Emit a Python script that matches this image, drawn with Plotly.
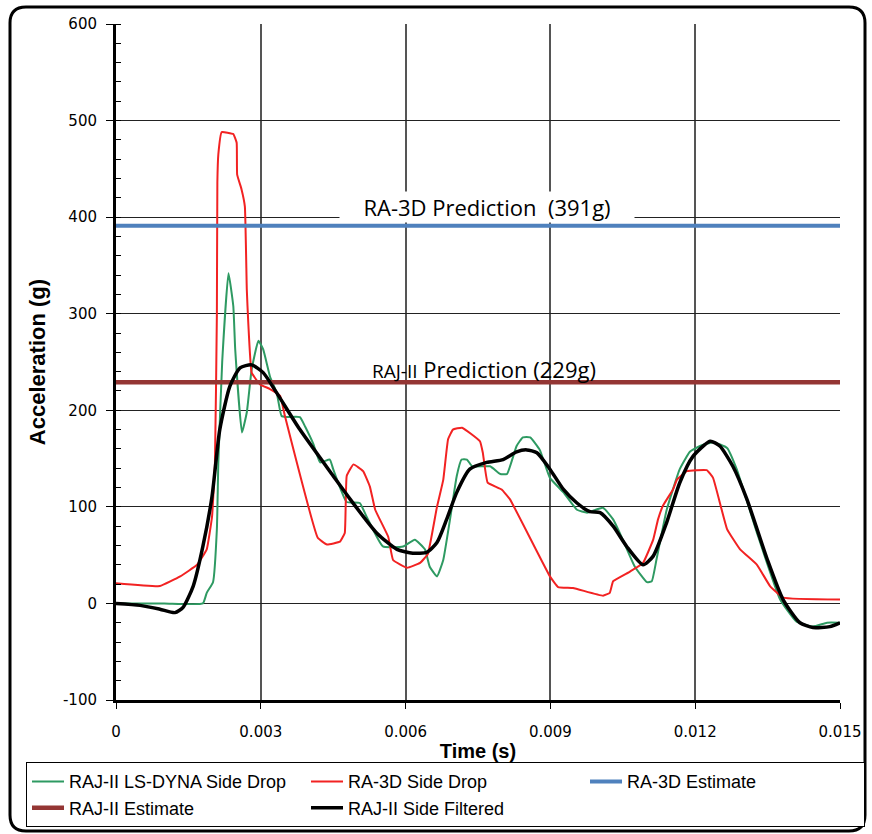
import plotly.graph_objects as go

# ---- data (time in seconds, acceleration in g) ----
red_t = [0.0, 0.00091, 0.00133, 0.00168, 0.00188, 0.00199, 0.00205, 0.00209, 0.00210, 0.00212,
         0.00219, 0.00243, 0.00250, 0.00251, 0.00260, 0.00267, 0.00271, 0.00274, 0.00281, 0.00298,
         0.00319, 0.00340, 0.00350, 0.00418, 0.00437, 0.00464, 0.00474, 0.00478, 0.00492, 0.00512,
         0.00526, 0.00537, 0.00564, 0.00574, 0.00603, 0.00630, 0.00646, 0.00665, 0.00678, 0.00688,
         0.00698, 0.00717, 0.00754, 0.00760, 0.00770, 0.00799, 0.00816, 0.00899, 0.00916, 0.00947,
         0.01009, 0.01023, 0.01030, 0.01065, 0.01092, 0.01113, 0.01123, 0.01133, 0.01154, 0.01162,
         0.01183, 0.01224, 0.01237, 0.01266, 0.01293, 0.01328, 0.01355, 0.01382, 0.01500]
red_v = [21, 18, 28, 40, 56, 90, 146, 300, 436, 465,
         488, 486, 477, 444, 429, 411, 325, 291, 239, 227,
         222, 215, 194, 68, 61, 64, 73, 132, 144, 137,
         121, 97, 69, 45, 37, 42, 51, 100, 128, 170,
         180, 182, 168, 156, 125, 118, 108, 28, 17, 16,
         8, 11, 23, 33, 42, 66, 87, 101, 118, 128,
         137, 138, 130, 77, 56, 40, 18, 6, 4]

green_t = [0.0, 0.0010, 0.00180, 0.00188, 0.00201, 0.00209, 0.00212, 0.00220, 0.00233, 0.00243,
           0.00247, 0.00261, 0.00271, 0.00281, 0.00295, 0.00305, 0.00319, 0.00333, 0.00343, 0.00353,
           0.00381, 0.00392, 0.00409, 0.00423, 0.00443, 0.00450, 0.00478, 0.00505, 0.00519, 0.00553,
           0.00595, 0.00619, 0.00640, 0.00650, 0.00665, 0.00678, 0.00692, 0.00706, 0.00716, 0.00727,
           0.00738, 0.00775, 0.00796, 0.00810, 0.00830, 0.00843, 0.00858, 0.00878, 0.00899, 0.00927,
           0.00955, 0.00976, 0.01009, 0.01030, 0.01050, 0.01075, 0.01100, 0.01110, 0.01120, 0.01141,
           0.01168, 0.01189, 0.01210, 0.01237, 0.01266, 0.01286, 0.01328, 0.01376, 0.01410, 0.01444,
           0.01473, 0.01500]
green_v = [0, 0, 0, 11, 22, 77, 146, 250, 342, 308,
           263, 177, 198, 242, 272, 263, 235, 218, 194, 193,
           193, 183, 165, 146, 149, 139, 105, 104, 90, 59,
           59, 66, 56, 38, 28, 45, 87, 132, 149, 149,
           142, 142, 134, 134, 163, 172, 172, 159, 130, 115,
           97, 94, 99, 87, 66, 38, 22, 23, 46, 97,
           139, 157, 163, 167, 161, 139, 73, 4, -19, -24,
           -20, -20]

black_t = [0.0, 0.0005, 0.00091, 0.00122, 0.00139, 0.00160, 0.00180, 0.00199, 0.00215, 0.00236,
           0.00257, 0.00281, 0.00305, 0.00333, 0.00381, 0.00450, 0.00485, 0.00540, 0.00582, 0.00615,
           0.00644, 0.00665, 0.00685, 0.00706, 0.00733, 0.00768, 0.00802, 0.00830, 0.00851, 0.00872,
           0.00899, 0.00927, 0.00955, 0.00982, 0.01003, 0.01030, 0.01058, 0.01092, 0.01113, 0.01141,
           0.01168, 0.01195, 0.01231, 0.01251, 0.01278, 0.01307, 0.01349, 0.01382, 0.01417, 0.01444,
           0.01479, 0.01500]
black_v = [0, -2, -6, -9.5, -4, 18, 59, 111, 180, 225,
           244, 247, 239, 218, 180, 132, 108, 73, 56, 52,
           53, 63, 87, 115, 139, 146, 149, 157, 159, 156,
           139, 118, 104, 95, 94, 80, 59, 40, 49, 84,
           125, 152, 168, 163, 142, 108, 46, 4, -20, -25,
           -24, -20]

est_t = [0.0, 0.015]
ra3d_est = [391, 391]
raj2_est = [229, 229]

x_ticks = [0, 0.003, 0.006, 0.009, 0.012, 0.015]
x_labels = ["0", "0.003", "0.006", "0.009", "0.012", "0.015"]
y_ticks = [-100, 0, 100, 200, 300, 400, 500, 600]
y_labels = ["-100", "0", "100", "200", "300", "400", "500", "600"]

SANS = "Liberation Sans, Arial, sans-serif"
TICKF = "DejaVu Sans, Verdana, sans-serif"

fig = go.Figure()
fig.add_trace(go.Scatter(x=green_t, y=green_v, mode="lines", name="RAJ-II LS-DYNA Side Drop",
                         line=dict(color="#2E9A62", width=2, shape="spline", smoothing=0.4)))
fig.add_trace(go.Scatter(x=red_t, y=red_v, mode="lines", name="RA-3D Side Drop",
                         line=dict(color="#F22222", width=2, shape="spline", smoothing=0.3)))
fig.add_trace(go.Scatter(x=est_t, y=ra3d_est, mode="lines", name="RA-3D Estimate",
                         line=dict(color="#4F81BD", width=4)))
fig.add_trace(go.Scatter(x=est_t, y=raj2_est, mode="lines", name="RAJ-II Estimate",
                         line=dict(color="#943634", width=4.5)))
fig.add_trace(go.Scatter(x=black_t, y=black_v, mode="lines", name="RAJ-II Side Filtered",
                         line=dict(color="#000000", width=3.5, shape="spline", smoothing=0.6)))

fig.update_layout(
    width=872, height=834,
    margin=dict(l=116, r=32, t=24, b=134, autoexpand=False),
    paper_bgcolor="white", plot_bgcolor="white",
    showlegend=True,
    legend=dict(orientation="h", x=-0.1243, y=-0.092, xanchor="left", yanchor="top",
                entrywidth=232, entrywidthmode="pixels",
                bordercolor="black", borderwidth=1,
                font=dict(family=SANS, size=18, color="black"),
                itemwidth=32),
    xaxis=dict(range=[0, 0.015], tickvals=x_ticks, ticktext=x_labels,
               showgrid=True, gridcolor="#555555", gridwidth=1.5,
               showline=True, linecolor="black", linewidth=3,
               ticks="outside", ticklen=6, tickcolor="black", tickwidth=1,
               ticklabelstandoff=10,
               tickfont=dict(family=TICKF, size=15, color="black"),
               title=dict(text="<b>Time (s)</b>", standoff=4,
                          font=dict(family=SANS, size=20, color="black")),
               zeroline=False),
    yaxis=dict(range=[-100, 600], tickvals=y_ticks, ticktext=y_labels,
               showgrid=True, gridcolor="#222222", gridwidth=1,
               showline=True, linecolor="black", linewidth=3,
               ticks="outside", ticklen=7, tickcolor="black", tickwidth=1,
               ticklabelstandoff=6,
               minor=dict(dtick=20, tick0=0, ticks="inside", ticklen=5, tickcolor="black",
                          showgrid=False),
               tickfont=dict(family=TICKF, size=15, color="black"),
               title=dict(text="<b>Acceleration (g)</b>", standoff=12,
                          font=dict(family=SANS, size=22, color="black")),
               zeroline=False),
)

fig.add_annotation(x=0.00768, y=393.5, xref="x", yref="y", yanchor="bottom",
                   text="RA-3D Prediction  (391g)", showarrow=False,
                   bgcolor="white", borderpad=0, width=294, align="center",
                   font=dict(family="Open Sans, sans-serif", size=22, color="black"))
fig.add_annotation(x=0.00762, y=243, xref="x", yref="y", yanchor="middle",
                   text="<span style='font-size:19px'>RAJ-II</span> Prediction (229g)",
                   showarrow=False,
                   font=dict(family="Open Sans, sans-serif", size=22, color="black"))

# rounded outer border (paper coordinates relative to plot area)
def px(xp):
    return (xp - 116) / 724.0

def py(yp):
    return (700 - yp) / 676.0

L, R, T, B, rr = 10, 865, 7, 831, 16
path = (f"M {px(L+rr)},{py(T)} L {px(R-rr)},{py(T)} Q {px(R)},{py(T)} {px(R)},{py(T+rr)} "
        f"L {px(R)},{py(B-rr)} Q {px(R)},{py(B)} {px(R-rr)},{py(B)} "
        f"L {px(L+rr)},{py(B)} Q {px(L)},{py(B)} {px(L)},{py(B-rr)} "
        f"L {px(L)},{py(T+rr)} Q {px(L)},{py(T)} {px(L+rr)},{py(T)} Z")
fig.add_shape(type="path", path=path, xref="paper", yref="paper",
              line=dict(color="black", width=3), layer="above")

fig.write_html("out.html", config={"displayModeBar": False},
               post_script="document.body.style.margin='0';document.body.style.overflow='hidden';")
